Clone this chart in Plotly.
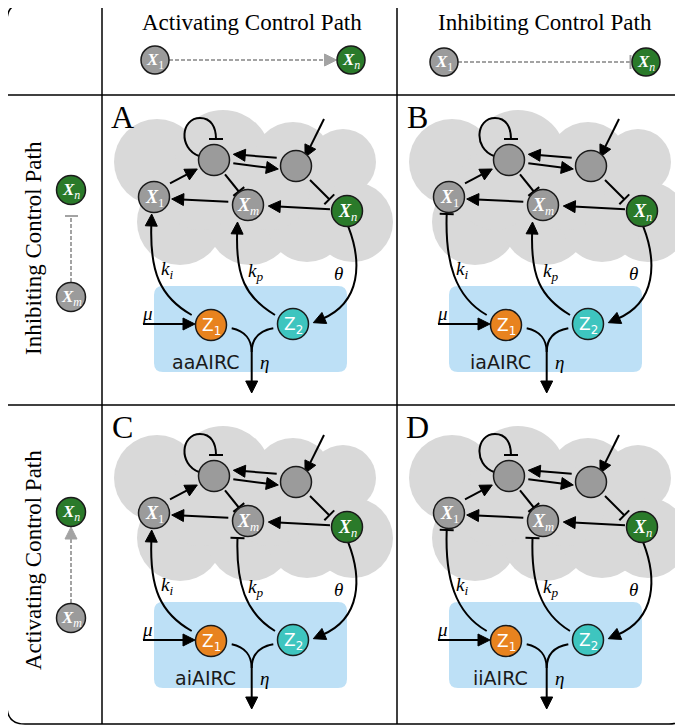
import math
import plotly.graph_objects as go

W, H = 683, 726
PAGE_MARGIN = 8  # default body margin of the written html page

# ---------------- colours ----------------
GRAY = '#9b9b9b'
GREEN = '#2a7a2a'
ORANGE = '#e8831f'
TEAL = '#3ec5bf'
CLOUD = '#d9d9d9'
BOX = '#bde0f6'
DASH_GRAY = '#a3a3a3'

# ---------------- content ----------------
HEADER_TITLES = ['Activating Control Path', 'Inhibiting Control Path']
HEADER_TITLE_X = [252, 545]
HEADER_TYPES = ['arrow', 'bar']
HEADER_X1_X = [155, 444]
HEADER_XN_X = [351, 646]
HEADER_NODE_Y = [60, 62]

ROW_TITLES = ['Inhibiting Control Path', 'Activating Control Path']
ROW_TITLE_Y = [248, 560]
ROW_TYPES = ['bar', 'arrow']
ROW_XN_Y = [190, 512]
ROW_XM_Y = [297, 618]

PANEL_NAMES = ['A', 'B', 'C', 'D']
PANEL_DX = [0, 295, 0, 295]
PANEL_DY = [0, 0, 316, 316]
PANEL_LABEL_X = [122, 417, 122, 417]
PANEL_LABEL_Y = [117, 117, 427, 427]
CIRCUIT_NAMES = ['aaAIRC', 'iaAIRC', 'aiAIRC', 'iiAIRC']
KI_TYPES = ['arrow', 'bar', 'arrow', 'bar']
KP_TYPES = ['arrow', 'arrow', 'bar', 'bar']

# node layout inside a panel (panel A coordinates)
NODE_IDS = ['T', 'R', 'X1', 'Xm', 'Xn', 'Z1', 'Z2']
NODE_X = [214, 296, 154, 248, 347, 211, 293]
NODE_Y = [160, 166, 197, 205, 211, 325, 324]
NODE_COLORS = [GRAY, GRAY, GRAY, GRAY, GREEN, ORANGE, TEAL]
NODE_LABELS = ['', '',
               '<b><i>X</i></b><sub>1</sub>',
               '<b><i>X</i></b><sub><i>m</i></sub>',
               '<b><i>X</i></b><sub><i>n</i></sub>',
               'Z<sub>1</sub>', 'Z<sub>2</sub>']
NODE_R = 15.5

# cloud made of circles (cx, cy, r) in panel-A coordinates
CLOUD_CX = [157, 223, 293, 343, 353, 180, 250, 307, 200, 270]
CLOUD_CY = [162, 158, 162, 162, 222, 222, 222, 222, 190, 190]
CLOUD_R = [43, 48, 40, 33, 40, 43, 43, 40, 40, 40]

# straight edges (x0, y0, x1, y1, head)
STRAIGHT_EDGES = [
    (276.7, 157.7, 233.3, 154.3, 'arrow'),   # R -> T
    (233.3, 163.3, 278.3, 169.0, 'arrow'),   # T -> R
    (170.0, 183.3, 197.3, 169.0, 'arrow'),   # X1 -> T
    (228.3, 201.7, 171.7, 199.0, 'arrow'),   # Xm -> X1
    (330.0, 209.3, 268.3, 206.0, 'arrow'),   # Xn -> Xm
    (324.0, 119.0, 305.0, 157.3, 'arrow'),   # input -> R
    (143.0, 324.0, 195.0, 324.0, 'arrow'),   # mu -> Z1
    (225.0, 174.3, 238.8, 191.5, 'bar'),     # T -| Xm
    (310.0, 180.0, 329.3, 199.3, 'bar'),     # R -| Xn
]

# curve edges: p0, c1, c2, p3
KI_CURVE = [(191.7, 315), (160, 297), (150, 262), (151.7, 214)]
KP_CURVE = [(275, 315), (245, 297), (236, 266), (237.5, 222)]
THETA_CURVE = [(348.3, 226.7), (362, 262), (352, 306), (313.3, 322.7)]
Z1_MERGE = [(231.7, 328.3), (245, 331), (251.7, 340), (251.7, 352)]
Z2_MERGE = [(273.3, 328.3), (258, 331), (251.7, 340), (251.7, 352)]
OUT_LINE = (251.7, 352, 251.7, 393)
SELF_LOOP = [(199, 156), (178, 148), (181, 118), (200, 118),
             (211, 118), (216, 127), (216, 139)]

MATH_LABELS = ['<i>k<sub>i</sub></i>', '<i>k<sub>p</sub></i>', '<i>θ</i>', '<i>μ</i>', '<i>η</i>']
MATH_X = [166.7, 255, 338, 147, 264]
MATH_Y = [270, 272, 273, 313, 362]

BOX_RECT = (154, 286, 347, 372)
CIRCUIT_LABEL_XY = (205, 362)

shapes = []
annotations = []


def add_line(x0, y0, x1, y1, color='black', width=2, dash=None):
    ln = dict(color=color, width=width)
    if dash:
        ln['dash'] = dash
    shapes.append(dict(type='line', xref='x', yref='y', x0=x0, y0=y0, x1=x1, y1=y1, line=ln))


def add_head(tx, ty, ux, uy, kind, color='black', L=12, w=6):
    px, py = -uy, ux
    if kind == 'arrow':
        bx, by = tx - L * ux, ty - L * uy
        path = (f"M {tx},{ty} L {bx + w * px},{by + w * py} "
                f"L {bx - w * px},{by - w * py} Z")
        shapes.append(dict(type='path', xref='x', yref='y', path=path,
                           fillcolor=color, line=dict(color=color, width=1)))
    elif kind == 'bar':
        add_line(tx + 7 * px, ty + 7 * py, tx - 7 * px, ty - 7 * py, color, 2)


def edge(x0, y0, x1, y1, kind, color='black', dash=None, width=2):
    d = math.hypot(x1 - x0, y1 - y0)
    ux, uy = (x1 - x0) / d, (y1 - y0) / d
    ex, ey = x1, y1
    if kind == 'arrow':
        ex, ey = x1 - 10 * ux, y1 - 10 * uy
    add_line(x0, y0, ex, ey, color, width, dash)
    if kind:
        add_head(x1, y1, ux, uy, kind, color)


def curve(pts, kind, dx, dy):
    p = [(x + dx, y + dy) for x, y in pts]
    (x2, y2), (x3, y3) = p[-2], p[-1]
    d = math.hypot(x3 - x2, y3 - y2)
    ux, uy = (x3 - x2) / d, (y3 - y2) / d
    tipx, tipy = x3, y3
    if kind == 'arrow':
        p[-1] = (x3 - 10 * ux, y3 - 10 * uy)
        p[-2] = (x2 - 10 * ux, y2 - 10 * uy)
    path = f"M {p[0][0]},{p[0][1]}"
    for i in range(1, len(p), 3):
        path += f" C {p[i][0]},{p[i][1]} {p[i+1][0]},{p[i+1][1]} {p[i+2][0]},{p[i+2][1]}"
    shapes.append(dict(type='path', xref='x', yref='y', path=path,
                       fillcolor='rgba(0,0,0,0)', line=dict(color='black', width=2)))
    if kind:
        add_head(tipx, tipy, ux, uy, kind)


def circle(cx, cy, r, fill, outline='#1a1a1a', width=1.5):
    shapes.append(dict(type='circle', xref='x', yref='y', x0=cx - r, y0=cy - r, x1=cx + r, y1=cy + r,
                       fillcolor=fill, line=dict(color=outline, width=width)))


def node(cx, cy, r, fill, label, size=15, family='Liberation Serif'):
    circle(cx, cy, r, fill)
    if label:
        annotations.append(dict(x=cx, y=cy + 1, xref='x', yref='y', text=label, showarrow=False,
                                font=dict(family=family, size=size, color='white'),
                                xanchor='center', yanchor='middle'))


def rounded_rect(x0, y0, x1, y1, r, fill=None, line=None):
    path = (f"M {x0 + r},{y0} L {x1 - r},{y0} Q {x1},{y0} {x1},{y0 + r} "
            f"L {x1},{y1 - r} Q {x1},{y1} {x1 - r},{y1} L {x0 + r},{y1} "
            f"Q {x0},{y1} {x0},{y1 - r} L {x0},{y0 + r} Q {x0},{y0} {x0 + r},{y0} Z")
    shapes.append(dict(type='path', xref='x', yref='y', path=path,
                       fillcolor=fill or 'rgba(0,0,0,0)',
                       line=line or dict(width=0)))


def text(x, y, s, size, family='Liberation Serif', color='black', angle=0):
    annotations.append(dict(x=x, y=y, xref='x', yref='y', text=s, showarrow=False,
                            textangle=angle, font=dict(family=family, size=size, color=color),
                            xanchor='center', yanchor='middle'))


# ---------------- panels ----------------
for k in range(4):
    dx, dy = PANEL_DX[k], PANEL_DY[k]
    # cloud
    for cx, cy, r in zip(CLOUD_CX, CLOUD_CY, CLOUD_R):
        shapes.append(dict(type='circle', xref='x', yref='y', x0=cx - r + dx, y0=cy - r + dy,
                           x1=cx + r + dx, y1=cy + r + dy, fillcolor=CLOUD, line=dict(width=0)))
    # controller box
    bx0, by0, bx1, by1 = BOX_RECT
    rounded_rect(bx0 + dx, by0 + dy, bx1 + dx, by1 + dy, 9, fill=BOX)
    # straight edges
    for x0, y0, x1, y1, kind in STRAIGHT_EDGES:
        edge(x0 + dx, y0 + dy, x1 + dx, y1 + dy, kind)
    # self loop (inhibition)
    curve(SELF_LOOP, 'bar', dx, dy)
    # curves
    curve(KI_CURVE, KI_TYPES[k], dx, dy)
    curve(KP_CURVE, KP_TYPES[k], dx, dy)
    curve(THETA_CURVE, 'arrow', dx, dy)
    curve(Z1_MERGE, None, dx, dy)
    curve(Z2_MERGE, None, dx, dy)
    ox0, oy0, ox1, oy1 = OUT_LINE
    edge(ox0 + dx, oy0 + dy, ox1 + dx, oy1 + dy, 'arrow')
    # nodes
    for nid, nx, ny, col, lab in zip(NODE_IDS, NODE_X, NODE_Y, NODE_COLORS, NODE_LABELS):
        if nid.startswith('Z'):
            node(nx + dx, ny + dy, NODE_R, col, lab, size=17, family='DejaVu Sans')
        else:
            node(nx + dx, ny + dy, NODE_R, col, lab, size=18)
    # labels
    for s, mx, my in zip(MATH_LABELS, MATH_X, MATH_Y):
        text(mx + dx, my + dy, s, 19)
    text(CIRCUIT_LABEL_XY[0] + dx, CIRCUIT_LABEL_XY[1] + dy, CIRCUIT_NAMES[k], 19,
         family='DejaVu Sans', color='#1a1a1a')
    text(PANEL_LABEL_X[k], PANEL_LABEL_Y[k], PANEL_NAMES[k], 32)

# ---------------- header row ----------------
XLAB = ['<b><i>X</i></b><sub>1</sub>', '<b><i>X</i></b><sub><i>n</i></sub>', '<b><i>X</i></b><sub><i>m</i></sub>']
for i in range(2):
    text(HEADER_TITLE_X[i], 22, HEADER_TITLES[i], 23)
    y = HEADER_NODE_Y[i]
    x1, xn = HEADER_X1_X[i], HEADER_XN_X[i]
    tipx = xn - 14.5
    if HEADER_TYPES[i] == 'arrow':
        add_line(x1 + 14, y, tipx - 11, y, DASH_GRAY, 2, '4px,2px')
        add_head(tipx, y, 1, 0, 'arrow', DASH_GRAY, L=12, w=6)
    else:
        add_line(x1 + 14, y, tipx - 1, y, DASH_GRAY, 2, '4px,2px')
        add_line(tipx - 1, y - 7, tipx - 1, y + 7, DASH_GRAY, 2)
    node(x1, y, 14, GRAY, XLAB[0], size=17)
    node(xn, y, 14, GREEN, XLAB[1], size=17)

# ---------------- left column ----------------
for i in range(2):
    text(33, ROW_TITLE_Y[i], ROW_TITLES[i], 23, angle=-90)
    yn, ym = ROW_XN_Y[i], ROW_XM_Y[i]
    tipy = yn + 15
    if ROW_TYPES[i] == 'arrow':
        add_line(71, ym - 15, 71, tipy + 11, DASH_GRAY, 2, '4px,2px')
        add_head(71, tipy, 0, -1, 'arrow', DASH_GRAY, L=12, w=6)
    else:
        add_line(71, ym - 15, 71, tipy + 11, DASH_GRAY, 2, '4px,2px')
        add_line(65, tipy + 11, 78, tipy + 11, DASH_GRAY, 2)
    node(71, yn, 14.5, GREEN, XLAB[1], size=17)
    node(71, ym, 14.5, GRAY, XLAB[2], size=17)

# ---------------- frame ----------------
rounded_rect(7, 3, 687, 724, 18, line=dict(color='black', width=1.5))
add_line(102, 3, 102, 724, 'black', 1.5)
add_line(397, 3, 397, 724, 'black', 1.5)
add_line(7, 95, 687, 95, 'black', 1.5)
add_line(7, 405, 687, 405, 'black', 1.5)

# the page body has an 8px margin: shrink the figure so that page pixel == diagram coordinate
fig = go.Figure(go.Scatter(x=[W], y=[H], mode='markers', marker=dict(opacity=0), hoverinfo='skip'))
fig.update_layout(
    width=W - PAGE_MARGIN, height=H - PAGE_MARGIN, margin=dict(l=0, r=0, t=0, b=0, pad=0),
    paper_bgcolor='white', plot_bgcolor='white', showlegend=False,
    xaxis=dict(range=[PAGE_MARGIN, W], visible=False, fixedrange=True),
    yaxis=dict(range=[H, PAGE_MARGIN], visible=False, fixedrange=True),
    shapes=shapes, annotations=annotations,
)
fig.write_html("out.html", config=dict(displayModeBar=False))
